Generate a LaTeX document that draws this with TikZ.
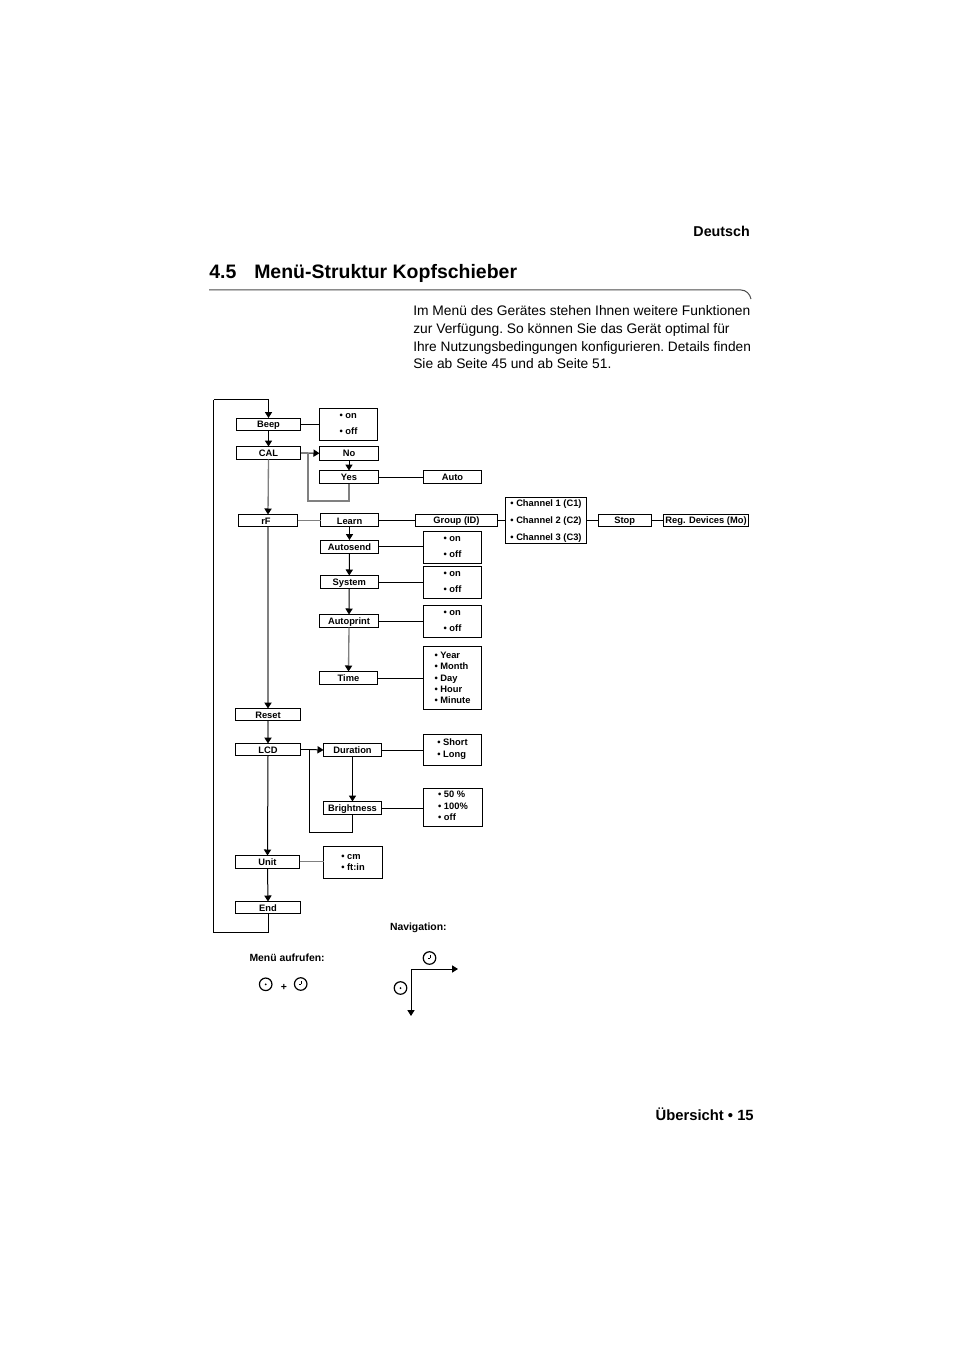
\documentclass[tikz,border=0pt]{standalone}
\usepackage{fontspec}
\setmainfont{Liberation Sans}
\usetikzlibrary{arrows.meta}
\newcommand\bx[6]{\node[box,minimum width={(#4-#2)*0.75pt},minimum height={(#5-#3)*0.75pt}] (#1) at ({(#2+#4)/2},{-(#3+#5)/2}) {#6};}
\newcommand\dn{\rule{0pt}{6.2pt}}
\tikzset{
  box/.style={draw=black,line width=0.75pt,fill=white,inner sep=0pt,outer sep=0pt,align=left,font=\fontsize{7}{8.5}\selectfont\bfseries},
  link/.style={draw=black,line width=0.75pt},
  glink/.style={draw=black!50,line width=1pt},
  flow/.style={link,-{Triangle[length=4.5pt,width=5.4pt,fill=black]}},
  gflow/.style={glink,-{Triangle[length=4.5pt,width=5.4pt,fill=black,color=black]}},
  lbl/.style={inner sep=0pt,outer sep=0pt,anchor=base west,font=\fontsize{7.8}{9.5}\selectfont\bfseries},
  key/.style={circle,draw=black,line width=0.9pt,minimum size=9.4pt,inner sep=0pt,outer sep=0pt},
  hand/.style={line width=0.75pt,draw=black},
}
\begin{document}
\begin{tikzpicture}[x=0.75pt,y=0.75pt]
\useasboundingbox[fill=white] (0,0) rectangle (954,-1351);

% page furniture
\node[anchor=base east,inner sep=0pt,font=\fontsize{10.7}{13}\selectfont\bfseries] (lang) at (750,-237) {Deutsch};
\node[anchor=base west,inner sep=0pt,font=\fontsize{14.6}{18}\selectfont\bfseries] (secnum) at (209,-278.5) {4.5};
\node[anchor=base west,inner sep=0pt,font=\fontsize{14.6}{18}\selectfont\bfseries] (sectitle) at (254,-278.5) {Menü-Struktur Kopfschieber};
\draw[draw=black!70,line width=0.75pt] (209,-290) -- (741,-290) .. controls (746,-290) and (750,-294) .. (751,-299);
\node[anchor=north west,inner sep=0pt,align=left,font=\fontsize{10.36}{13.25}\selectfont\frenchspacing] (intro) at (413,-305.5) {Im Menü des Gerätes stehen Ihnen weitere Funktionen\\zur Verfügung. So können Sie das Gerät optimal für\\{\fontsize{10.26}{13.25}\selectfont Ihre Nutzungsbedingungen konfigurieren. Details finden}\\Sie ab Seite 45 und ab Seite 51.};
\node[anchor=base east,inner sep=0pt,font=\fontsize{11.1}{13}\selectfont\bfseries] (foot) at (754,-1120) {Übersicht • 15};

% boxes
\bx{beep}{236.5}{418}{300.5}{430.5}{\dn Beep}
\bx{beepv}{319.5}{408.5}{377.5}{440.5}{• on\\[3.5pt]• off}
\bx{cal}{236.5}{446.5}{300.5}{459.5}{CAL}
\bx{no}{319.5}{446.5}{378.5}{460}{No}
\bx{yes}{319.5}{470.5}{378.5}{483.5}{Yes}
\bx{auto}{423.5}{470.5}{481.5}{483.5}{Auto}
\bx{rf}{238.5}{514.5}{297.5}{526.5}{\dn rF\hspace{3pt}}
\bx{learn}{320.5}{513.5}{378.5}{526.5}{\dn Learn}
\bx{group}{415.5}{514.5}{497.5}{526.5}{\dn Group (ID)}
\bx{chan}{505.5}{497.5}{586.5}{543}{\dn • Channel 1 (C1)\\[4.2pt]• Channel 2 (C2)\\[4.2pt]• Channel 3 (C3)}
\bx{stop}{598.5}{514}{651}{526.5}{\dn Stop}
\bx{reg}{663.5}{514}{748.5}{526.5}{\dn Reg. Devices (Mo)}
\bx{asend}{320.5}{540}{378.5}{553.5}{\dn Autosend}
\bx{asendv}{423.5}{531.5}{481.5}{563.5}{• on\\[3.5pt]• off}
\bx{sys}{320}{575.5}{378.5}{588.5}{\dn System}
\bx{sysv}{423.5}{566.5}{481.5}{598.5}{• on\\[3.5pt]• off}
\bx{aprint}{319.5}{614.5}{378.5}{627.5}{\dn Autoprint}
\bx{aprintv}{423.5}{605.5}{481.5}{637.5}{• on\\[3.5pt]• off}
\bx{time}{319.5}{671.5}{377.5}{684.5}{Time}
\bx{timev}{423.5}{646.5}{481.5}{709.5}{• Year\\• Month\\• Day\\• Hour\\• Minute}
\bx{reset}{235.5}{708.5}{300.5}{720.5}{\dn Reset}
\bx{lcd}{235.5}{743.5}{300.5}{755.5}{\dn LCD}
\bx{dur}{323.5}{743.5}{381.5}{756.5}{Duration}
\bx{durv}{423.5}{734.5}{481.5}{765.5}{• Short\\[0.5pt]• Long\rule[-3pt]{0pt}{0pt}}
\bx{bright}{323.5}{801.5}{381.5}{814.5}{\dn Brightness}
\bx{brightv}{423.5}{788.5}{482.5}{826.5}{• 50 \%\\• 100\%\\• off\rule[-2.2pt]{0pt}{0pt}}
\bx{unit}{235.5}{855.5}{299.5}{868}{\dn Unit}
\bx{unitv}{323.5}{846.5}{382.5}{878.5}{• cm\\• ft:in}
\bx{endb}{235.5}{901.5}{300.5}{913.5}{\dn End}

% helper points
\coordinate (loopbl) at (213.5,-932.5);
\coordinate (looptl) at (213.5,-399.5);
\coordinate (caljoin) at (308,-453);
\coordinate (calbot) at (308,-501);
\coordinate (lcdjoin) at (309.5,-749.5);
\coordinate (lcdbot) at (309.5,-832.5);

% connectors
\draw[flow] (looptl) -- (beep.north |- looptl) -- (beep.north);
\draw[link] (endb.south) |- (loopbl) -- (looptl);
\draw[flow] (beep.south) -- (cal.north);
\draw[link] (beep.east) -- (beepv.west |- beep.east);
\draw[glink] (cal.east) -- (caljoin);
\draw[flow] (caljoin) -- (no.west);
\draw[flow] (no.south) -- (yes.north);
\draw[link] (yes.east) -- (auto.west);
\draw[glink] (yes.south) |- (calbot) -- (caljoin);
\draw[gflow] (cal.south) -- (rf.north);
\draw[glink] (rf.east) -- (learn.west |- rf.east);
\draw[link] (learn.east) -- (group.west |- learn.east);
\draw[link] (group.east) -- (chan.west |- group.east);
\draw[link] (chan.east |- stop.west) -- (stop.west);
\draw[link] (stop.east) -- (reg.west);
\draw[flow] (learn.south) -- (asend.north);
\draw[link] (asend.east) -- (asendv.west |- asend.east);
\draw[flow] (asend.south) -- (sys.north);
\draw[link] (sys.east) -- (sysv.west |- sys.east);
\draw[flow] (sys.south) -- (aprint.north);
\draw[link] (aprint.east) -- (aprintv.west |- aprint.east);
\draw[gflow] (aprint.south) -- (time.north);
\draw[link] (time.east) -- (timev.west |- time.east);
\draw[gflow] (rf.south) -- (reset.north);
\draw[gflow] (reset.south) -- (lcd.north);
\draw[link] (lcd.east) -- (lcdjoin);
\draw[flow] (lcdjoin) -- (dur.west);
\draw[link] (dur.east) -- (durv.west |- dur.east);
\draw[flow] (dur.south) -- (bright.north);
\draw[link] (bright.east) -- (brightv.west |- bright.east);
\draw[link] (bright.south) |- (lcdbot) -- (lcdjoin);
\draw[flow] (lcd.south) -- (unit.north);
\draw[glink] (unit.east) -- (unitv.west |- unit.east);
\draw[flow] (unit.south) -- (endb.north);

% legend
\node[lbl] (navlbl) at (390,-930.5) {Navigation:};
\node[lbl] (menulbl) at (249.5,-961.5) {Menü aufrufen:};
\node[lbl,anchor=center] (plus) at (284,-987.5) {+};

\node[key] (k1) at (265.7,-984.3) {};
\fill (k1.center) circle (1);
\node[key] (k2) at (300.7,-984) {};
\draw[hand] (k2.center) ++(0.5,0) -- ++(0,3.5) (k2.center) ++(0.5,0) -- ++(-2.5,0);
\node[key] (k3) at (429.5,-958) {};
\draw[hand] (k3.center) ++(0.5,0) -- ++(0,3.5) (k3.center) ++(0.5,0) -- ++(-2.5,0);
\node[key] (k4) at (400.5,-988) {};
\fill (k4.center) circle (1);

\coordinate (navc) at (411,-969);
\coordinate (navr) at (458,-969);
\coordinate (navd) at (411,-1016);
\draw[flow] (navc) -- (navr);
\draw[flow] (navc) -- (navd);
\end{tikzpicture}
\end{document}
